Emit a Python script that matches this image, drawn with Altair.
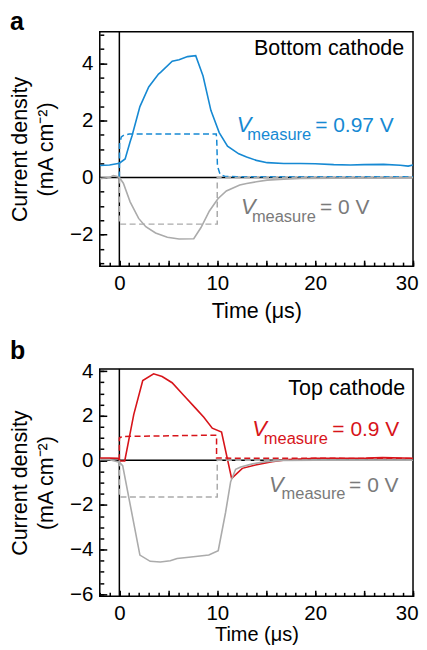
import altair as alt
import pandas as pd

FONT = "Liberation Sans"
BLUE = "#1689d3"
RED = "#d7141a"
GRAY = "#ababab"
GRAY_TXT = "#7a7a7a"

# ---------------- Panel a: bottom cathode ----------------
a_blue_t = [-2, -1, 0, 0.59, 1.1, 1.29, 2.1, 3.0, 4.0, 4.21, 5.4, 6.1, 6.97, 7.8, 8.55, 9.35, 10.2, 11.05, 12.2, 13.0, 14.0, 15.1, 16.8, 18.5, 20.0, 21.9, 23.6, 25.0, 27.0, 28.7, 29.5, 30.0]
a_blue_j = [0.42, 0.44, 0.50, 0.65, 1.25, 1.45, 2.48, 3.17, 3.62, 3.68, 4.07, 4.12, 4.23, 4.26, 3.55, 2.35, 1.57, 1.10, 0.83, 0.72, 0.60, 0.52, 0.49, 0.49, 0.48, 0.45, 0.44, 0.45, 0.46, 0.43, 0.40, 0.44]
a_blue_dash_t = [0, 0.02, 0.2, 0.5, 1.0, 9.9, 9.95, 10.02, 10.3, 10.8, 12, 30]
a_blue_dash_j = [0, 1.17, 1.42, 1.49, 1.52, 1.52, 1.3, 0.4, 0.1, 0.04, 0.03, 0.03]
a_gray_t = [-2, -1, -0.62, -0.3, 0, 0.41, 1.1, 1.97, 2.7, 3.7, 4.9, 6.1, 7.6, 8.34, 9.2, 10.07, 10.93, 12.3, 13.0, 14.0, 15.1, 16.8, 18.5, 22, 26, 30]
a_gray_j = [-0.04, 0.0, 0.07, 0.04, 0.0, -0.2, -0.85, -1.43, -1.72, -1.94, -2.09, -2.15, -2.14, -1.75, -1.17, -0.74, -0.47, -0.26, -0.21, -0.15, -0.09, -0.06, -0.03, -0.02, -0.02, -0.01]
a_gray_dash_t = [0, 0, 10, 10, 30]
a_gray_dash_j = [0, -1.63, -1.63, 0, 0]

# ---------------- Panel b: top cathode ----------------
b_red_t = [-2, -1, -0.14, 0.1, 0.55, 1.47, 2.39, 3.5, 4.37, 5.39, 6.59, 7.78, 8.63, 9.49, 10.44, 11.47, 12.56, 13.9, 15.6, 17.3, 20.0, 25.2, 26.9, 30]
b_red_j = [0.1, 0.1, 0.09, -0.03, -0.03, 2.05, 3.58, 3.88, 3.76, 3.48, 2.91, 2.34, 1.93, 1.44, 1.27, -0.81, -0.36, -0.21, -0.06, 0.04, 0.09, 0.1, 0.12, 0.09]
b_red_dash_t = [0, 0, 0.3, 9.93, 9.93, 30]
b_red_dash_j = [0, 1.0, 1.07, 1.13, 0.1, 0.08]
b_gray_t = [-2, -1, 0, 0.34, 2.1, 3.15, 4.18, 5.2, 5.9, 7.1, 9.14, 10.1, 10.85, 11.37, 11.88, 12.4, 13.6, 14.95, 16.65, 20, 25, 30]
b_gray_j = [0.03, 0.03, -0.09, -0.24, -4.25, -4.53, -4.56, -4.5, -4.4, -4.35, -4.25, -4.05, -2.34, -0.96, -0.4, -0.3, -0.16, -0.06, -0.01, 0.0, 0.0, 0.0]
b_gray_dash_t = [0, 0, 10, 10, 30]
b_gray_dash_j = [0, -1.65, -1.65, 0, 0]

# annotation anchors (data coordinates)
a_ann_text = ["V", "measure", "= 0.97 V", "V", "measure", "= 0 V"]
a_ann_t = [12.0, 13.06, 20.0, 12.42, 13.54, 20.5]
a_ann_j = [1.59, 1.30, 1.59, -1.26, -1.55, -1.26]
a_ann_col = [BLUE, BLUE, BLUE, GRAY_TXT, GRAY_TXT, GRAY_TXT]
b_ann_text = ["V", "measure", "= 0.9 V", "V", "measure", "= 0 V"]
b_ann_t = [13.57, 14.76, 21.76, 15.28, 16.57, 23.47]
b_ann_j = [1.08, 0.73, 1.08, -1.44, -1.74, -1.44]
b_ann_col = [RED, RED, RED, GRAY_TXT, GRAY_TXT, GRAY_TXT]
ann_kind = ["V", "sub", "eq", "V", "sub", "eq"]

X_DOMAIN = [-2, 30]


def sdf(t, j):
    return pd.DataFrame({"t": t, "j": j, "i": list(range(len(t)))})


def panel(letter, ydom, height, ymajor, series, cathode, cath_pos, ann, title_offset,
          xtitle_size, xtitle_pad):
    xs = alt.Scale(domain=X_DOMAIN, nice=False, zero=False)
    ys = alt.Scale(domain=ydom, nice=False, zero=False)
    yminor = [v / 2 for v in range(int(ydom[0] * 2) - 1, int(ydom[1] * 2) + 2) if ydom[0] <= v / 2 <= ydom[1]]

    common = dict(domain=False, grid=False, labelFont=FONT, titleFont=FONT, labelFontSize=20.5,
                  titleFontWeight="normal", labelColor="black", titleColor="black",
                  tickColor="black", tickWidth=1.5)
    major_x = alt.Axis(values=list(range(0, 31, 5)), labelExpr="datum.value % 10 === 0 ? datum.label : ''",
                       tickSize=6, offset=-6, labelPadding=7, orient="bottom",
                       title="Time (μs)", titlePadding=xtitle_pad, titleFontSize=xtitle_size,
                       labelFlush=True, labelFlushOffset=5, **common)
    major_y = alt.Axis(values=ymajor, tickSize=7, offset=-7, labelPadding=7,
                       orient="left", title=["Current density", "(mA cm⁻²)"], titlePadding=12,
                       titleLineHeight=26, titleFontSize=21.5, **common)
    minor_x = alt.Axis(values=list(range(-2, 31)), tickSize=4, offset=-4,
                       labels=False, title=None, orient="bottom", **common)
    minor_y = alt.Axis(values=yminor, tickSize=4, offset=-4,
                       labels=False, title=None, orient="left", **common)

    hline = alt.Chart(pd.DataFrame({"v": [0]})).mark_rule(color="black", strokeWidth=1.5).encode(
        y=alt.Y("v:Q", scale=ys, axis=None))
    vline = alt.Chart(pd.DataFrame({"v": [0]})).mark_rule(color="black", strokeWidth=1.5).encode(
        x=alt.X("v:Q", scale=xs, axis=None))

    layers = [hline, vline]
    for k, (t, j, color, dashed) in enumerate(series):
        if k == 0:
            ax, ay = major_x, major_y
        elif k == 1:
            ax, ay = minor_x, minor_y
        else:
            ax, ay = None, None
        props = dict(color=color, strokeWidth=1.6 if not dashed else 1.5, clip=True)
        if dashed:
            props["strokeDash"] = [6, 3.5]
        layers.append(alt.Chart(sdf(t, j)).mark_line(**props).encode(
            x=alt.X("t:Q", scale=xs, axis=ax),
            y=alt.Y("j:Q", scale=ys, axis=ay),
            order=alt.Order("i:Q")))

    cdf = pd.DataFrame({"t": [cath_pos[0]], "j": [cath_pos[1]], "txt": [cathode]})
    layers.append(alt.Chart(cdf).mark_text(align="right", baseline="alphabetic", fontSize=21.5,
                                           color="black", font=FONT).encode(
        x=alt.X("t:Q", scale=xs, axis=None), y=alt.Y("j:Q", scale=ys, axis=None), text="txt:N"))

    adf = pd.DataFrame(ann)
    styles = {"V": dict(fontSize=22, fontStyle="italic"), "sub": dict(fontSize=16.5), "eq": dict(fontSize=21)}
    for kind, st in styles.items():
        layers.append(alt.Chart(adf).transform_filter(alt.datum.kind == kind).mark_text(
            align="left", baseline="alphabetic", font=FONT, **st).encode(
            x=alt.X("t:Q", scale=xs, axis=None), y=alt.Y("j:Q", scale=ys, axis=None),
            text="text:N", color=alt.Color("col:N", scale=None)))

    return alt.layer(*layers).resolve_axis(x="independent", y="independent").properties(
        width=314, height=height,
        title=alt.TitleParams(text=letter, anchor="start", frame="group", dx=-90, offset=title_offset,
                              fontSize=25, fontWeight="bold", font=FONT, color="black"))


pa = panel("a", [-3.1, 5.1], 235, [-2, 0, 2, 4],
           [(a_blue_t, a_blue_j, BLUE, False), (a_blue_dash_t, a_blue_dash_j, BLUE, True),
            (a_gray_t, a_gray_j, GRAY, False), (a_gray_dash_t, a_gray_dash_j, GRAY, True)],
           "Bottom cathode", (29.1, 4.27),
           {"text": a_ann_text, "t": a_ann_t, "j": a_ann_j, "col": a_ann_col, "kind": ann_kind}, -4,
           21.5, 7)
pb = panel("b", [-6.1, 4.1], 228, [-6, -4, -2, 0, 2, 4],
           [(b_red_t, b_red_j, RED, False), (b_red_dash_t, b_red_dash_j, RED, True),
            (b_gray_t, b_gray_j, GRAY, False), (b_gray_dash_t, b_gray_dash_j, GRAY, True)],
           "Top cathode", (29.2, 2.93),
           {"text": b_ann_text, "t": b_ann_t, "j": b_ann_j, "col": b_ann_col, "kind": ann_kind}, -3,
           20, 1)

chart = alt.vconcat(pa, pb, spacing=15).configure(font=FONT, padding=0).configure_view(
    stroke="black", strokeWidth=1.5)

chart.save("out.html", embed_options={"renderer": "svg", "actions": False})
